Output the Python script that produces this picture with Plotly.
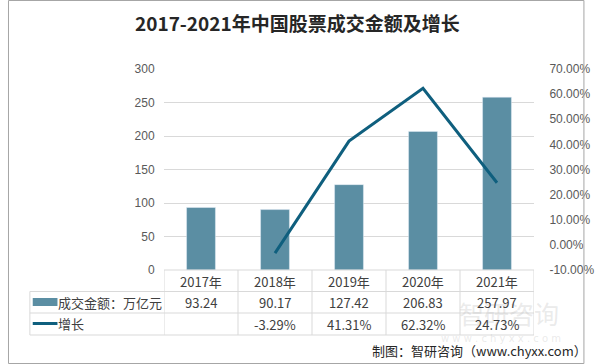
import plotly.graph_objects as go

years = ["2017年", "2018年", "2019年", "2020年", "2021年"]
amount = [93.24, 90.17, 127.42, 206.83, 257.97]
growth = [None, -3.29, 41.31, 62.32, 24.73]
amount_labels = ["93.24", "90.17", "127.42", "206.83", "257.97"]
growth_labels = ["", "-3.29%", "41.31%", "62.32%", "24.73%"]
left_ticks = [0, 50, 100, 150, 200, 250, 300]
right_ticks = [-10, 0, 10, 20, 30, 40, 50, 60, 70]

W, H = 606, 364
L, R, T, B = 164, 553, 69, 270

def px(x):
    return (x - L) / (R - L)

def py(y):
    return (B - y) / (B - T)

BAR = "#5b8ea3"
LINE = "#0f5f7e"
GRID = "#d9d9d9"
CJK = "Noto Sans CJK SC"

fig = go.Figure()
fig.add_trace(go.Bar(x=years, y=amount, marker_color=BAR, width=0.39, yaxis="y", showlegend=False))
fig.add_trace(go.Scatter(x=years, y=growth, mode="lines", line=dict(color=LINE, width=3),
                         yaxis="y2", showlegend=False, connectgaps=False))

shapes = []
annotations = []
rows = [270, 291.5, 313, 335]
shapes.append(dict(type="line", xref="x", yref="paper", x0=-0.5, x1=4.5, y0=py(rows[0]), y1=py(rows[0]),
                   line=dict(color=GRID, width=1)))
for r in rows[1:]:
    shapes.append(dict(type="line", xref="paper", yref="paper", x0=px(23), x1=1, y0=py(r), y1=py(r),
                       line=dict(color=GRID, width=1)))
for i in range(len(years) + 1):
    shapes.append(dict(type="line", xref="x", yref="paper", x0=i - 0.5, x1=i - 0.5, y0=py(rows[0]), y1=py(rows[-1]),
                       line=dict(color=GRID, width=1)))
shapes.append(dict(type="line", xref="paper", yref="paper", x0=px(23), x1=px(23), y0=py(rows[1]), y1=py(rows[-1]),
                   line=dict(color=GRID, width=1)))
shapes.append(dict(type="rect", xref="paper", yref="paper", x0=px(26), x1=px(52), y0=py(306), y1=py(298),
                   fillcolor=BAR, line=dict(width=0)))
shapes.append(dict(type="line", xref="paper", yref="paper", x0=px(26), x1=px(52), y0=py(323.5), y1=py(323.5),
                   line=dict(color=LINE, width=3)))
shapes.append(dict(type="rect", xref="paper", yref="paper", x0=px(0.5), x1=px(605.5), y0=py(363.5), y1=py(0.5),
                   line=dict(color="#a6a6a6", width=1)))

tf = dict(family=CJK, size=13, color="#404040")
def ann(x, y, text, xref="paper", xanchor="center", font=tf):
    annotations.append(dict(x=x, y=y, xref=xref, yref="paper", text=text, showarrow=False,
                            xanchor=xanchor, yanchor="middle", font=font))

# watermark first (drawn beneath)
ann(px(527), py(313), "智研咨询", font=dict(family=CJK, size=25, color="rgba(185,185,185,0.3)"))
ann(px(518), py(338), "w w w . c h y x x . c o m", font=dict(family="DejaVu Sans", size=10, color="rgba(185,185,185,0.3)"))
for i, y in enumerate(years):
    ann(y, py(281), y, xref="x")
    ann(y, py(302), amount_labels[i], xref="x")
    ann(y, py(324), growth_labels[i], xref="x")
ann(px(50.5), py(302), "成交金额：万亿元", xanchor="left")
ann(px(50.5), py(323), "增长", xanchor="left")
ann(px(304), py(22), "<b>2017-2021年中国股票成交金额及增长</b>", font=dict(family=CJK, size=19, color="#262626"))
ann(px(381), py(350), "制图：智研咨询（www.chyxx.com）", xanchor="left", font=dict(family=CJK, size=13, color="#262626"))

fig.update_layout(
    width=W, height=H,
    margin=dict(l=L, r=W - R, t=T, b=H - B, pad=0),
    paper_bgcolor="white", plot_bgcolor="white",
    xaxis=dict(showticklabels=False, showgrid=False, showline=False, zeroline=False, range=[-0.5, 4.5]),
    yaxis=dict(range=[0, 300], tickvals=left_ticks, showgrid=True, gridcolor=GRID, zeroline=False,
               tickfont=dict(family="Liberation Sans", size=12, color="#595959"),
               ticks="outside", ticklen=6, tickcolor="rgba(0,0,0,0)"),
    yaxis2=dict(range=[-10, 70], tickvals=right_ticks, ticktext=[f"{v:.2f}%" for v in right_ticks],
                overlaying="y", side="right", showgrid=False, zeroline=False,
                tickfont=dict(family="Liberation Sans", size=12, color="#595959"),
                ticks="outside", ticklen=12, tickcolor="rgba(0,0,0,0)"),
    shapes=shapes, annotations=annotations,
)
fig.write_html("out.html", config={"displayModeBar": False}, post_script="document.body.style.margin='0';")
